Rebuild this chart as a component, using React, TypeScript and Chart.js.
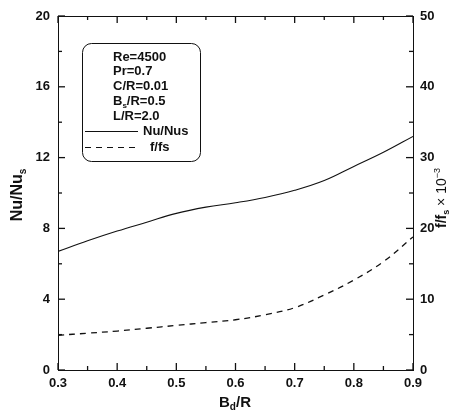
import React, { useEffect, useRef } from "react";
import { Chart, registerables } from "chart.js";
Chart.register(...registerables);

// ---- data ----
const bdR = [0.3, 0.35, 0.4, 0.45, 0.5, 0.55, 0.6, 0.65, 0.7, 0.75, 0.8, 0.85, 0.9];
const nuRatio = [6.7, 7.3, 7.85, 8.35, 8.85, 9.2, 9.45, 9.75, 10.15, 10.7, 11.5, 12.3, 13.2];
const fRatio = [4.9, 5.2, 5.5, 5.9, 6.3, 6.7, 7.1, 7.8, 8.8, 10.6, 12.7, 15.3, 18.8];
const xMajorTicks = [0.3, 0.4, 0.5, 0.6, 0.7, 0.8, 0.9];
const yLeftMajorTicks = [0, 4, 8, 12, 16, 20];
const yRightMajorTicks = [0, 10, 20, 30, 40, 50];
const legendParams = [
  [{ t: "Re=4500" }],
  [{ t: "Pr=0.7" }],
  [{ t: "C/R=0.01" }],
  [{ t: "B" }, { t: "s", sub: true }, { t: "/R=0.5" }],
  [{ t: "L/R=2.0" }],
];
const seriesLabels = ["Nu/Nus", "f/fs"];

const FONT = "'Liberation Sans', Arial, sans-serif";
const INK = "#111";

type Part = { t: string; sub?: boolean; sup?: boolean; normal?: boolean };

function drawRich(ctx: CanvasRenderingContext2D, parts: Part[], x: number, y: number, size: number, align: "left" | "center", rot = 0) {
  ctx.save();
  ctx.translate(x, y);
  if (rot) ctx.rotate(rot);
  const fontFor = (p: Part) => `${p.normal ? "normal" : "bold"} ${p.sub || p.sup ? Math.round(size * 0.65) : size}px ${FONT}`;
  let total = 0;
  for (const p of parts) {
    ctx.font = fontFor(p);
    total += ctx.measureText(p.t).width;
  }
  let cx = align === "center" ? -total / 2 : 0;
  ctx.textBaseline = "middle";
  ctx.textAlign = "left";
  ctx.fillStyle = INK;
  for (const p of parts) {
    ctx.font = fontFor(p);
    const dy = p.sub ? size * 0.3 : p.sup ? -size * 0.35 : 0;
    ctx.fillText(p.t, cx, dy);
    cx += ctx.measureText(p.t).width;
  }
  ctx.restore();
}

function withMinor(vals: number[]) {
  const out: { v: number; major: boolean }[] = [];
  vals.forEach((v, i) => {
    out.push({ v, major: true });
    if (i < vals.length - 1) out.push({ v: (v + vals[i + 1]) / 2, major: false });
  });
  return out;
}

function seg(ctx: CanvasRenderingContext2D, x1: number, y1: number, x2: number, y2: number) {
  ctx.beginPath();
  ctx.moveTo(x1, y1);
  ctx.lineTo(x2, y2);
  ctx.stroke();
}

const decorPlugin = {
  id: "decor",
  afterDraw(chart: any) {
    const ctx: CanvasRenderingContext2D = chart.ctx;
    const area = chart.chartArea;
    const left = area.left, right = area.right, top = area.top, bottom = area.bottom;
    const xs = chart.scales.x;
    const yl = chart.scales.y;
    const yr = chart.scales.y2;
    ctx.save();
    ctx.setLineDash([]);
    ctx.strokeStyle = INK;
    ctx.lineWidth = 1;
    seg(ctx, left, top + 0.5, right, top + 0.5);

    ctx.lineWidth = 1.3;
    for (const t of withMinor(xMajorTicks)) {
      const px = xs.getPixelForValue(t.v);
      const len = t.major ? 7 : 4;
      seg(ctx, px, bottom, px, bottom - len);
      seg(ctx, px, top, px, top + len);
    }
    for (const t of withMinor(yLeftMajorTicks)) {
      const py = yl.getPixelForValue(t.v);
      const len = t.major ? 7 : 4;
      seg(ctx, left, py, left + len, py);
    }
    for (const t of withMinor(yRightMajorTicks)) {
      const py = yr.getPixelForValue(t.v);
      const len = t.major ? 7 : 4;
      seg(ctx, right, py, right - len, py);
    }
    ctx.lineWidth = 1;

    // legend box
    ctx.beginPath();
    (ctx as any).roundRect(82.5, 43.5, 118, 118, 9);
    ctx.stroke();
    legendParams.forEach((parts, i) => {
      drawRich(ctx, parts as Part[], 113, 57 + i * 14.8, 13, "left");
    });
    seg(ctx, 85, 131.5, 138, 131.5);
    drawRich(ctx, [{ t: seriesLabels[0] }], 143, 131, 13, "left");
    ctx.setLineDash([6, 5]);
    seg(ctx, 85, 147.5, 138, 147.5);
    ctx.setLineDash([]);
    drawRich(ctx, [{ t: seriesLabels[1] }], 150, 147, 13, "left");

    // axis titles
    drawRich(ctx, [{ t: "Nu/Nu" }, { t: "s", sub: true }], 18, 195, 16, "center", -Math.PI / 2);
    drawRich(ctx, [{ t: "f/f" }, { t: "s", sub: true }, { t: " × 10", normal: true }, { t: "−3", sup: true, normal: true }], 442, 198, 14, "center", -Math.PI / 2);
    drawRich(ctx, [{ t: "B" }, { t: "d", sub: true }, { t: "/R" }], 235, 403, 15, "center");
    ctx.restore();
  },
};

export default function App() {
  const ref = useRef<HTMLCanvasElement>(null);
  useEffect(() => {
    document.body.style.margin = "0";
    const tickFont = { family: FONT, size: 13, weight: "bold" as const };
    const chart = new Chart(ref.current!, {
      type: "line",
      data: {
        datasets: [
          {
            label: seriesLabels[0],
            data: bdR.map((x, i) => ({ x, y: nuRatio[i] })),
            borderColor: INK,
            borderWidth: 1.1,
            pointRadius: 0,
            tension: 0.4,
            yAxisID: "y",
          },
          {
            label: seriesLabels[1],
            data: bdR.map((x, i) => ({ x, y: fRatio[i] })),
            borderColor: INK,
            borderWidth: 1.3,
            borderDash: [6, 5],
            pointRadius: 0,
            tension: 0.4,
            yAxisID: "y2",
          },
        ],
      },
      options: {
        animation: false,
        responsive: false,
        layout: { padding: { top: 16, left: 0, right: 0, bottom: 0 } },
        plugins: { legend: { display: false }, tooltip: { enabled: false } },
        scales: {
          x: {
            type: "linear",
            min: 0.3,
            max: 0.9,
            ticks: { stepSize: 0.1, color: INK, font: tickFont, padding: 6, maxRotation: 0, callback: (v: any) => Number(v).toFixed(1) },
            grid: { display: false, drawTicks: false },
            border: { display: true, color: INK, width: 1 },
            afterFit: (s: any) => { s.height = 46; },
          },
          y: {
            position: "left",
            min: 0,
            max: 20,
            ticks: { stepSize: 4, color: INK, font: tickFont, padding: 8 },
            grid: { display: false, drawTicks: false },
            border: { display: true, color: INK, width: 1 },
            afterFit: (s: any) => { s.width = 58; },
          },
          y2: {
            position: "right",
            min: 0,
            max: 50,
            ticks: { stepSize: 10, color: INK, font: tickFont, padding: 7 },
            grid: { display: false, drawTicks: false },
            border: { display: true, color: INK, width: 1 },
            afterFit: (s: any) => { s.width = 40; },
          },
        },
      },
      plugins: [decorPlugin],
    });
    return () => chart.destroy();
  }, []);
  return <canvas ref={ref} width={453} height={416} style={{ display: "block", width: 453, height: 416 }} />;
}
